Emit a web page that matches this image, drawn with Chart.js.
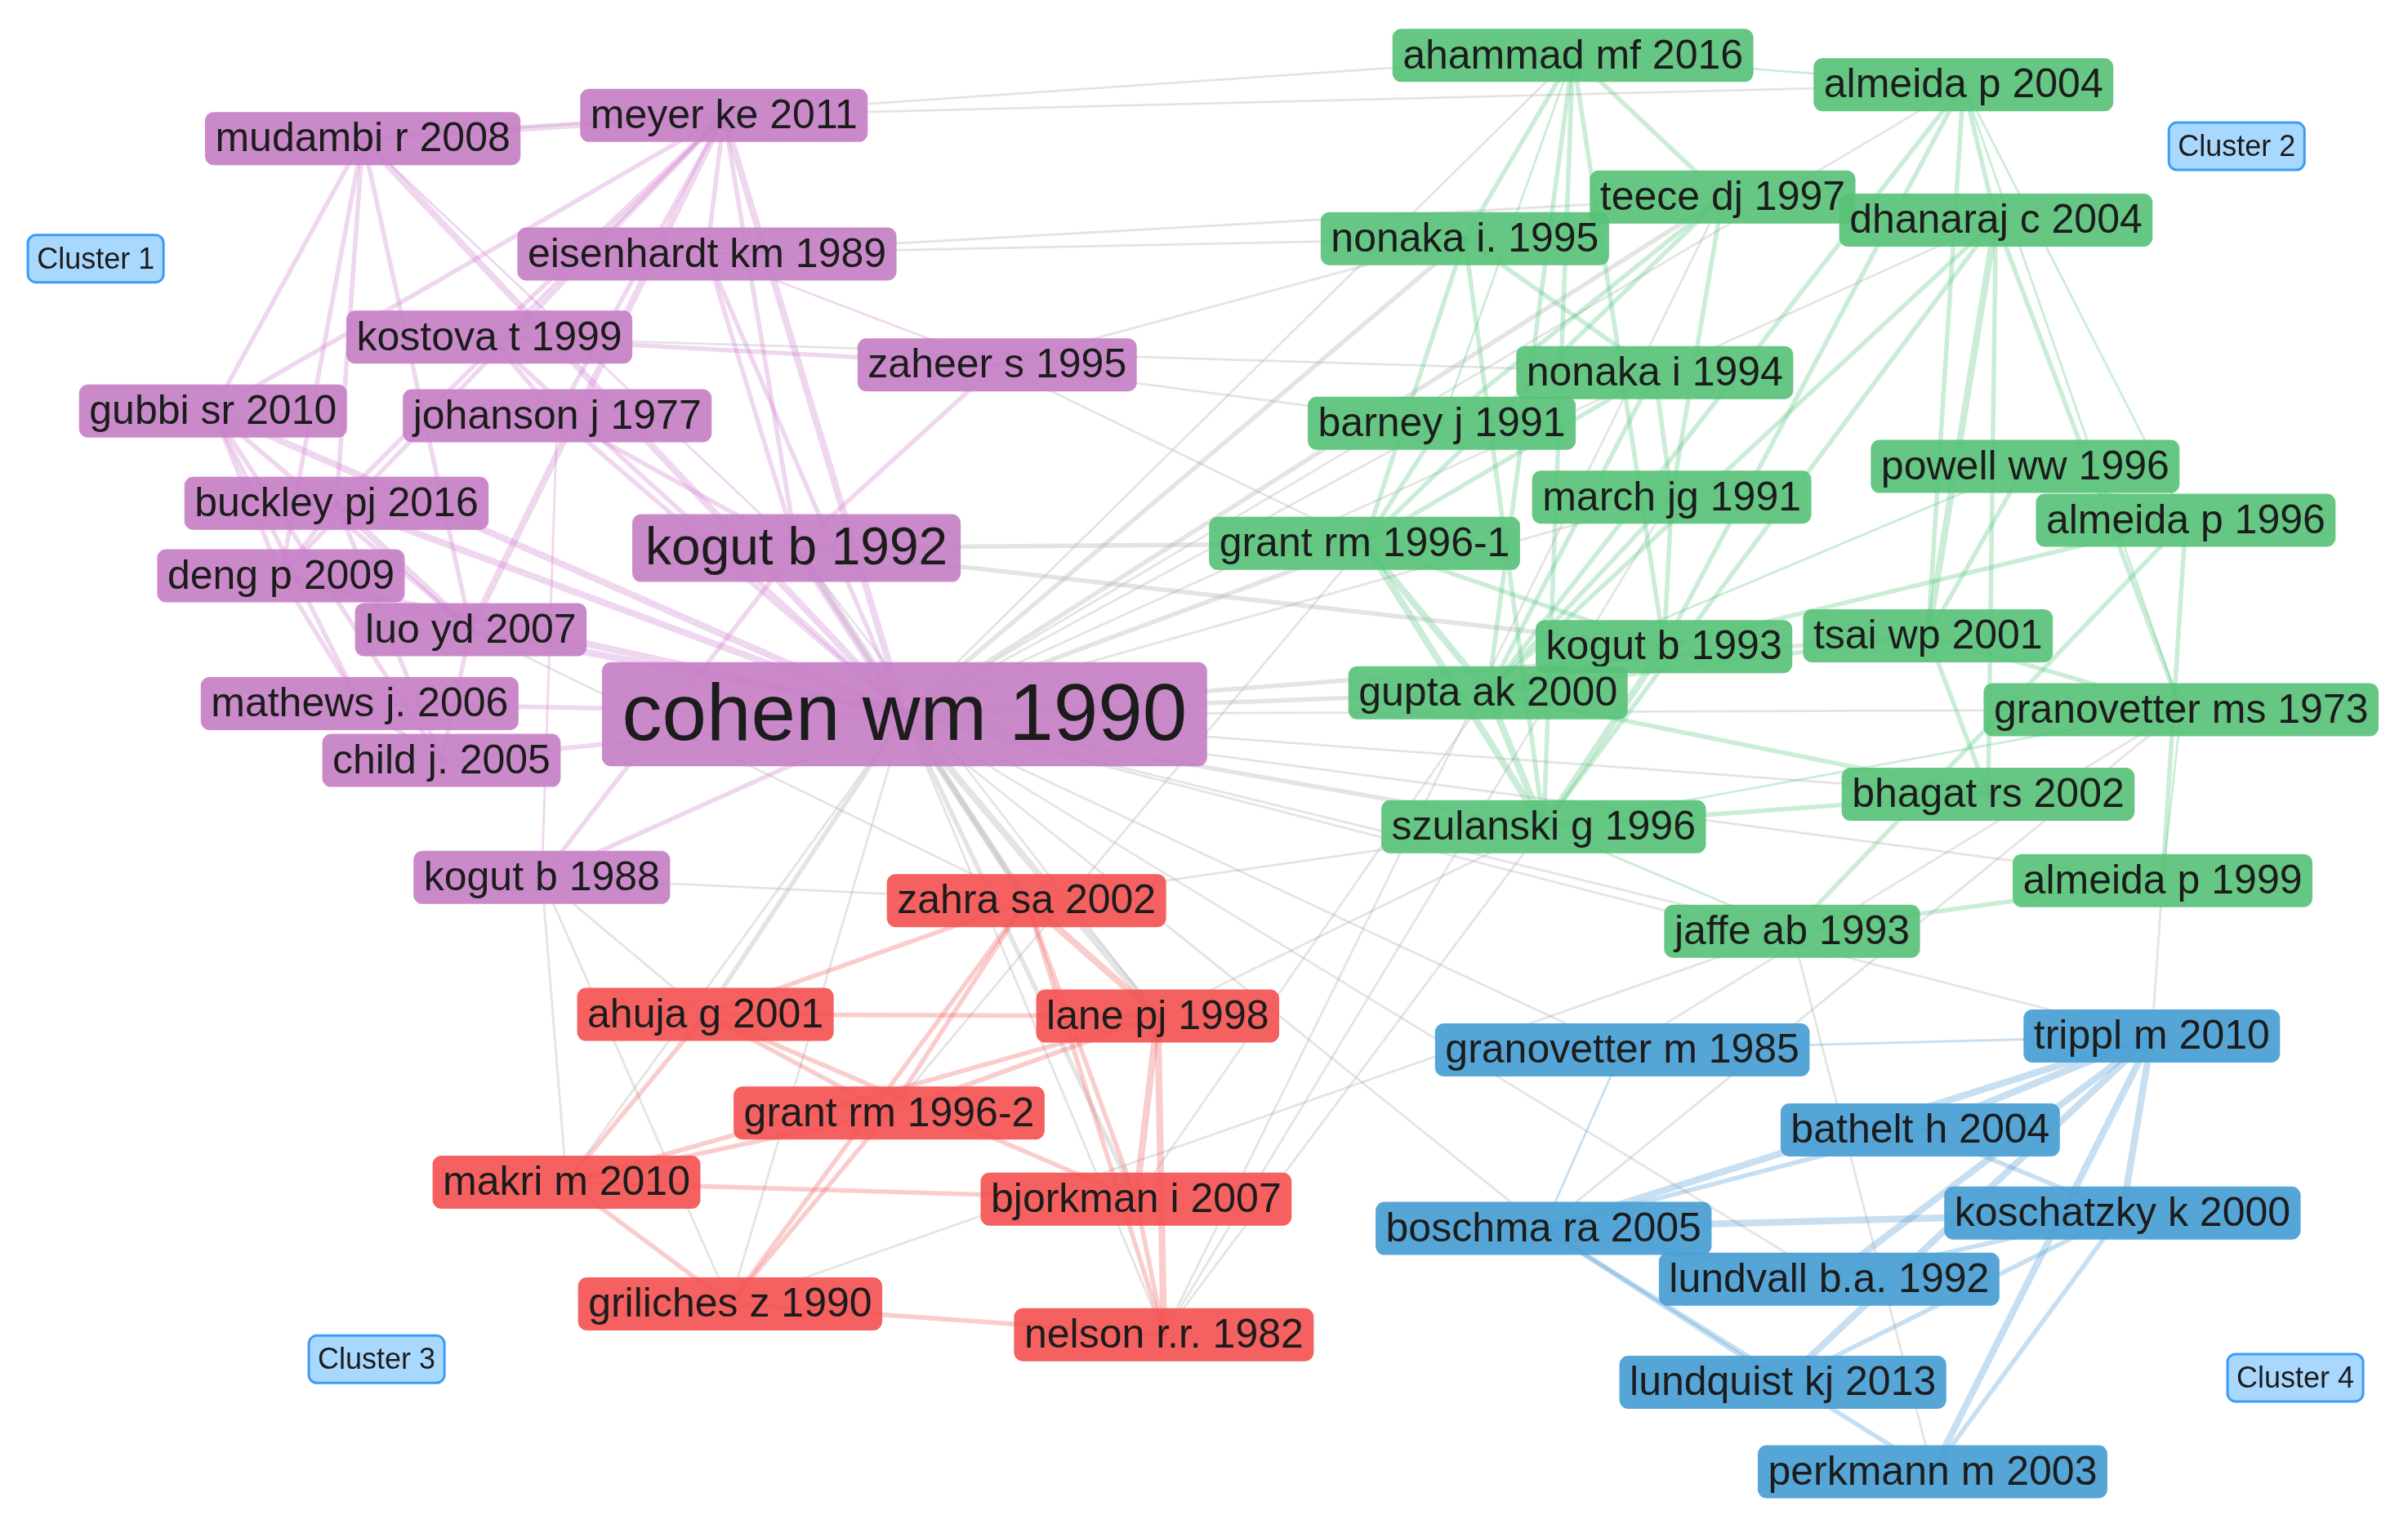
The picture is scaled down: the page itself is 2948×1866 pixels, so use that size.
<!DOCTYPE html>
<html>
<head>
<meta charset="utf-8">
<script src="https://cdn.jsdelivr.net/npm/chart.js@4"></script>
<style>
  html, body { margin: 0; padding: 0; background: #fff; }
  #wrap { width: 2948px; height: 1866px; }
</style>
</head>
<body>
<div id="wrap"><canvas id="net"></canvas></div>
<script>
// node labels, positions (in picture units) and cluster per node
const nodeNames = [
  "mudambi r 2008","meyer ke 2011","eisenhardt km 1989","kostova t 1999","zaheer s 1995",
  "gubbi sr 2010","johanson j 1977","buckley pj 2016","kogut b 1992","deng p 2009",
  "luo yd 2007","mathews j. 2006","child j. 2005","kogut b 1988","cohen wm 1990",
  "ahammad mf 2016","almeida p 2004","teece dj 1997","dhanaraj c 2004","nonaka i. 1995",
  "nonaka i 1994","barney j 1991","powell ww 1996","march jg 1991","grant rm 1996-1",
  "almeida p 1996","kogut b 1993","tsai wp 2001","gupta ak 2000","granovetter ms 1973",
  "bhagat rs 2002","szulanski g 1996","almeida p 1999","jaffe ab 1993",
  "zahra sa 2002","ahuja g 2001","lane pj 1998","grant rm 1996-2","makri m 2010",
  "bjorkman i 2007","griliches z 1990","nelson r.r. 1982",
  "granovetter m 1985","trippl m 2010","bathelt h 2004","koschatzky k 2000",
  "boschma ra 2005","lundvall b.a. 1992","lundquist kj 2013","perkmann m 2003"
];
const nodeX = [235,469,458,317,646,138,361,218,516,182,305,233,286,351,586,
  1019,1272,1116,1293,949,1072,934,1312,1083,884,1416,1078,1249,964,1413,1288,1000,1401,1161,
  665,457,750,576,367,736,473,754,
  1051,1394,1244,1375,1000,1185,1155,1252];
const nodeY = [90,75,165,219,237,267,270,327,356,374,409,457,494,570,464,
  36,55,128,143,155,242,275,303,323,353,338,420,413,450,461,516,537,572,605,
  585,659,660,723,768,779,847,867,
  682,673,734,788,798,831,898,956];
const nodeCluster = [1,1,1,1,1,1,1,1,1,1,1,1,1,1,1,
  2,2,2,2,2,2,2,2,2,2,2,2,2,2,2,2,2,2,2,
  3,3,3,3,3,3,3,3,
  4,4,4,4,4,4,4,4];
const nodeFont = nodeNames.map(n => n === "cohen wm 1990" ? 98 : n === "kogut b 1992" ? 64 : 50);

const clusterNames = ["Cluster 1","Cluster 2","Cluster 3","Cluster 4"];
const clusterX = [62,1449,244,1487];
const clusterY = [168,95,883,895];

const clusterFill = {1:"rgba(198,128,198,0.92)",2:"rgba(88,194,120,0.92)",3:"rgba(244,86,86,0.94)",4:"rgba(74,160,212,0.94)"};
const clusterEdge = {1:"rgba(200,110,200,0.28)",2:"rgba(70,190,110,0.28)",3:"rgba(240,90,90,0.3)",4:"rgba(70,150,210,0.3)"};

// links: [source, target, strength]
const edges = [
  ["cohen wm 1990","kogut b 1992",4],["cohen wm 1990","zahra sa 2002",3],["cohen wm 1990","lane pj 1998",3],
  ["cohen wm 1990","grant rm 1996-1",2],["cohen wm 1990","nonaka i. 1995",2],["cohen wm 1990","teece dj 1997",2],
  ["cohen wm 1990","szulanski g 1996",2],["cohen wm 1990","gupta ak 2000",2],["cohen wm 1990","ahammad mf 2016",1],
  ["cohen wm 1990","almeida p 2004",1],["cohen wm 1990","tsai wp 2001",2],["cohen wm 1990","granovetter ms 1973",1],
  ["cohen wm 1990","bjorkman i 2007",2],["cohen wm 1990","makri m 2010",1],["cohen wm 1990","griliches z 1990",1],
  ["cohen wm 1990","nelson r.r. 1982",1],["cohen wm 1990","ahuja g 2001",2],["cohen wm 1990","meyer ke 2011",3],
  ["cohen wm 1990","mudambi r 2008",3],["cohen wm 1990","eisenhardt km 1989",2],["cohen wm 1990","kostova t 1999",2],
  ["cohen wm 1990","johanson j 1977",2],["cohen wm 1990","gubbi sr 2010",3],["cohen wm 1990","buckley pj 2016",3],
  ["cohen wm 1990","deng p 2009",3],["cohen wm 1990","luo yd 2007",3],["cohen wm 1990","mathews j. 2006",2],
  ["cohen wm 1990","child j. 2005",2],["cohen wm 1990","kogut b 1988",2],["cohen wm 1990","boschma ra 2005",1],
  ["cohen wm 1990","granovetter m 1985",1],["cohen wm 1990","jaffe ab 1993",1],["cohen wm 1990","barney j 1991",1],
  ["cohen wm 1990","march jg 1991",1],["cohen wm 1990","dhanaraj c 2004",1],["cohen wm 1990","bhagat rs 2002",1],
  ["cohen wm 1990","almeida p 1999",1],["cohen wm 1990","lundvall b.a. 1992",1],["cohen wm 1990","trippl m 2010",1],
  ["meyer ke 2011","mudambi r 2008",3],["meyer ke 2011","eisenhardt km 1989",2],["meyer ke 2011","kostova t 1999",2],
  ["meyer ke 2011","gubbi sr 2010",2],["meyer ke 2011","buckley pj 2016",2],["meyer ke 2011","deng p 2009",2],
  ["meyer ke 2011","luo yd 2007",3],["meyer ke 2011","johanson j 1977",2],["mudambi r 2008","gubbi sr 2010",2],
  ["mudambi r 2008","buckley pj 2016",2],["mudambi r 2008","deng p 2009",2],["mudambi r 2008","luo yd 2007",2],
  ["mudambi r 2008","kogut b 1992",1],["eisenhardt km 1989","kogut b 1992",2],["eisenhardt km 1989","zaheer s 1995",1],
  ["kostova t 1999","johanson j 1977",2],["kostova t 1999","zaheer s 1995",2],["gubbi sr 2010","deng p 2009",2],
  ["gubbi sr 2010","luo yd 2007",2],["gubbi sr 2010","child j. 2005",2],["gubbi sr 2010","mathews j. 2006",2],
  ["buckley pj 2016","deng p 2009",2],["buckley pj 2016","luo yd 2007",3],["buckley pj 2016","child j. 2005",2],
  ["deng p 2009","luo yd 2007",3],["deng p 2009","mathews j. 2006",2],["luo yd 2007","child j. 2005",2],
  ["mathews j. 2006","child j. 2005",2],["johanson j 1977","kogut b 1992",2],["kogut b 1992","zaheer s 1995",2],
  ["kogut b 1988","kogut b 1992",2],["kogut b 1988","johanson j 1977",1],["meyer ke 2011","kogut b 1992",2],
  ["ahammad mf 2016","almeida p 2004",1],["ahammad mf 2016","nonaka i. 1995",2],["ahammad mf 2016","teece dj 1997",2],
  ["ahammad mf 2016","gupta ak 2000",2],["ahammad mf 2016","szulanski g 1996",2],["ahammad mf 2016","kogut b 1993",2],
  ["ahammad mf 2016","barney j 1991",1],["almeida p 2004","dhanaraj c 2004",2],["almeida p 2004","kogut b 1993",2],
  ["almeida p 2004","tsai wp 2001",2],["almeida p 2004","granovetter ms 1973",1],["almeida p 2004","gupta ak 2000",2],
  ["almeida p 2004","almeida p 1996",1],["teece dj 1997","barney j 1991",2],["teece dj 1997","grant rm 1996-1",2],
  ["teece dj 1997","march jg 1991",2],["dhanaraj c 2004","tsai wp 2001",3],["dhanaraj c 2004","gupta ak 2000",2],
  ["dhanaraj c 2004","szulanski g 1996",2],["dhanaraj c 2004","bhagat rs 2002",2],["dhanaraj c 2004","granovetter ms 1973",2],
  ["nonaka i. 1995","nonaka i 1994",2],["nonaka i. 1995","grant rm 1996-1",2],["nonaka i. 1995","szulanski g 1996",2],
  ["nonaka i 1994","grant rm 1996-1",2],["nonaka i 1994","gupta ak 2000",2],["barney j 1991","grant rm 1996-1",2],
  ["powell ww 1996","tsai wp 2001",2],["powell ww 1996","gupta ak 2000",1],["march jg 1991","gupta ak 2000",2],
  ["march jg 1991","kogut b 1993",2],["grant rm 1996-1","gupta ak 2000",3],["grant rm 1996-1","szulanski g 1996",3],
  ["grant rm 1996-1","kogut b 1993",2],["almeida p 1996","kogut b 1993",2],["almeida p 1996","jaffe ab 1993",2],
  ["almeida p 1996","almeida p 1999",2],["kogut b 1993","gupta ak 2000",3],["kogut b 1993","szulanski g 1996",3],
  ["tsai wp 2001","granovetter ms 1973",2],["tsai wp 2001","bhagat rs 2002",2],["tsai wp 2001","gupta ak 2000",2],
  ["gupta ak 2000","szulanski g 1996",3],["gupta ak 2000","bhagat rs 2002",2],["bhagat rs 2002","szulanski g 1996",2],
  ["almeida p 1999","jaffe ab 1993",2],["almeida p 1999","granovetter ms 1973",1],["jaffe ab 1993","szulanski g 1996",1],
  ["granovetter ms 1973","szulanski g 1996",1],["powell ww 1996","almeida p 1996",2],["nonaka i 1994","march jg 1991",2],
  ["zahra sa 2002","lane pj 1998",3],["zahra sa 2002","ahuja g 2001",2],["zahra sa 2002","grant rm 1996-2",2],
  ["zahra sa 2002","bjorkman i 2007",2],["zahra sa 2002","griliches z 1990",2],["zahra sa 2002","nelson r.r. 1982",2],
  ["ahuja g 2001","lane pj 1998",2],["ahuja g 2001","grant rm 1996-2",2],["ahuja g 2001","makri m 2010",2],
  ["ahuja g 2001","bjorkman i 2007",2],["lane pj 1998","grant rm 1996-2",2],["lane pj 1998","bjorkman i 2007",3],
  ["lane pj 1998","nelson r.r. 1982",3],["grant rm 1996-2","makri m 2010",2],["grant rm 1996-2","griliches z 1990",2],
  ["makri m 2010","bjorkman i 2007",2],["makri m 2010","griliches z 1990",2],["griliches z 1990","nelson r.r. 1982",2],
  ["bjorkman i 2007","nelson r.r. 1982",2],["makri m 2010","lane pj 1998",2],
  ["trippl m 2010","bathelt h 2004",3],["trippl m 2010","koschatzky k 2000",3],["trippl m 2010","boschma ra 2005",3],
  ["trippl m 2010","lundvall b.a. 1992",3],["trippl m 2010","lundquist kj 2013",3],["trippl m 2010","perkmann m 2003",3],
  ["trippl m 2010","granovetter m 1985",1],["bathelt h 2004","boschma ra 2005",2],["bathelt h 2004","koschatzky k 2000",2],
  ["boschma ra 2005","koschatzky k 2000",3],["boschma ra 2005","lundvall b.a. 1992",2],["boschma ra 2005","lundquist kj 2013",2],
  ["boschma ra 2005","perkmann m 2003",2],["lundvall b.a. 1992","koschatzky k 2000",2],["lundquist kj 2013","koschatzky k 2000",2],
  ["perkmann m 2003","koschatzky k 2000",2],["granovetter m 1985","boschma ra 2005",1],
  ["kogut b 1992","kogut b 1993",2],["kogut b 1992","grant rm 1996-1",2],["zaheer s 1995","nonaka i. 1995",1],
  ["zaheer s 1995","grant rm 1996-1",1],["eisenhardt km 1989","teece dj 1997",1],["meyer ke 2011","almeida p 2004",1],
  ["mudambi r 2008","ahammad mf 2016",1],["zahra sa 2002","szulanski g 1996",1],["lane pj 1998","szulanski g 1996",1],
  ["grant rm 1996-2","grant rm 1996-1",1],["nelson r.r. 1982","teece dj 1997",1],["nelson r.r. 1982","march jg 1991",1],
  ["bjorkman i 2007","gupta ak 2000",1],["kogut b 1988","zahra sa 2002",1],["kogut b 1988","griliches z 1990",1],
  ["makri m 2010","kogut b 1988",1],["griliches z 1990","jaffe ab 1993",1],["boschma ra 2005","granovetter ms 1973",1],
  ["trippl m 2010","almeida p 1999",1],["granovetter m 1985","granovetter ms 1973",1],["kogut b 1992","zahra sa 2002",2],
  ["kogut b 1992","lane pj 1998",1],["luo yd 2007","zahra sa 2002",1],["kogut b 1988","ahuja g 2001",1],
  ["eisenhardt km 1989","nonaka i. 1995",1],["kostova t 1999","nonaka i 1994",1],["zaheer s 1995","barney j 1991",1],
  ["jaffe ab 1993","perkmann m 2003",1],["nelson r.r. 1982","szulanski g 1996",1]
];

const idx = {};
nodeNames.forEach((n, i) => idx[n] = i);
const FONT = '"Liberation Sans", Arial, sans-serif';

const netPlugin = {
  id: "net",
  beforeDatasetsDraw(chart) {
    const ctx = chart.ctx, sx = chart.scales.x, sy = chart.scales.y;
    ctx.save();
    ctx.lineCap = "round";
    // gray cross-cluster links first, coloured links on top
    const sorted = edges.slice().sort((a, b) =>
      (nodeCluster[idx[a[0]]] === nodeCluster[idx[a[1]]]) - (nodeCluster[idx[b[0]]] === nodeCluster[idx[b[1]]]));
    sorted.forEach(([a, b, w]) => {
      const i = idx[a], j = idx[b];
      const same = nodeCluster[i] === nodeCluster[j];
      ctx.strokeStyle = same ? clusterEdge[nodeCluster[i]] : "rgba(165,165,165,0.3)";
      ctx.lineWidth = w * 2.8;
      ctx.beginPath();
      ctx.moveTo(sx.getPixelForValue(nodeX[i]), sy.getPixelForValue(nodeY[i]));
      ctx.lineTo(sx.getPixelForValue(nodeX[j]), sy.getPixelForValue(nodeY[j]));
      ctx.stroke();
    });
    ctx.restore();
  },
  afterDatasetsDraw(chart) {
    const ctx = chart.ctx, sx = chart.scales.x, sy = chart.scales.y;
    ctx.save();
    ctx.textAlign = "center";
    ctx.textBaseline = "middle";
    nodeNames.forEach((n, i) => {
      const f = nodeFont[i];
      ctx.font = f + "px " + FONT;
      const w = ctx.measureText(n).width + f * 0.5;
      const h = f * 1.3;
      const x = sx.getPixelForValue(nodeX[i]), y = sy.getPixelForValue(nodeY[i]);
      ctx.fillStyle = clusterFill[nodeCluster[i]];
      ctx.beginPath();
      ctx.roundRect(x - w / 2, y - h / 2, w, h, 11);
      ctx.fill();
      ctx.fillStyle = "#1c1c1c";
      ctx.fillText(n, x, y + f * 0.04);
    });
    clusterNames.forEach((n, i) => {
      ctx.font = "36px " + FONT;
      const w = ctx.measureText(n).width + 22, h = 58;
      const x = sx.getPixelForValue(clusterX[i]), y = sy.getPixelForValue(clusterY[i]);
      ctx.fillStyle = "#a9d8ff";
      ctx.strokeStyle = "#3d9cf5";
      ctx.lineWidth = 3;
      ctx.beginPath();
      ctx.roundRect(x - w / 2, y - h / 2, w, h, 10);
      ctx.fill();
      ctx.stroke();
      ctx.fillStyle = "#1c1c1c";
      ctx.fillText(n, x, y + 2);
    });
    ctx.restore();
  }
};

new Chart(document.getElementById("net"), {
  type: "scatter",
  data: {
    datasets: [{
      data: nodeNames.map((n, i) => ({ x: nodeX[i], y: nodeY[i] })),
      pointRadius: 0
    }]
  },
  options: {
    responsive: true,
    maintainAspectRatio: false,
    animation: false,
    layout: { padding: 0 },
    plugins: { legend: { display: false }, tooltip: { enabled: false } },
    scales: {
      x: { display: false, min: 0, max: 1560 },
      y: { display: false, min: 0, max: 990, reverse: true }
    }
  },
  plugins: [netPlugin]
});
</script>
</body>
</html>
